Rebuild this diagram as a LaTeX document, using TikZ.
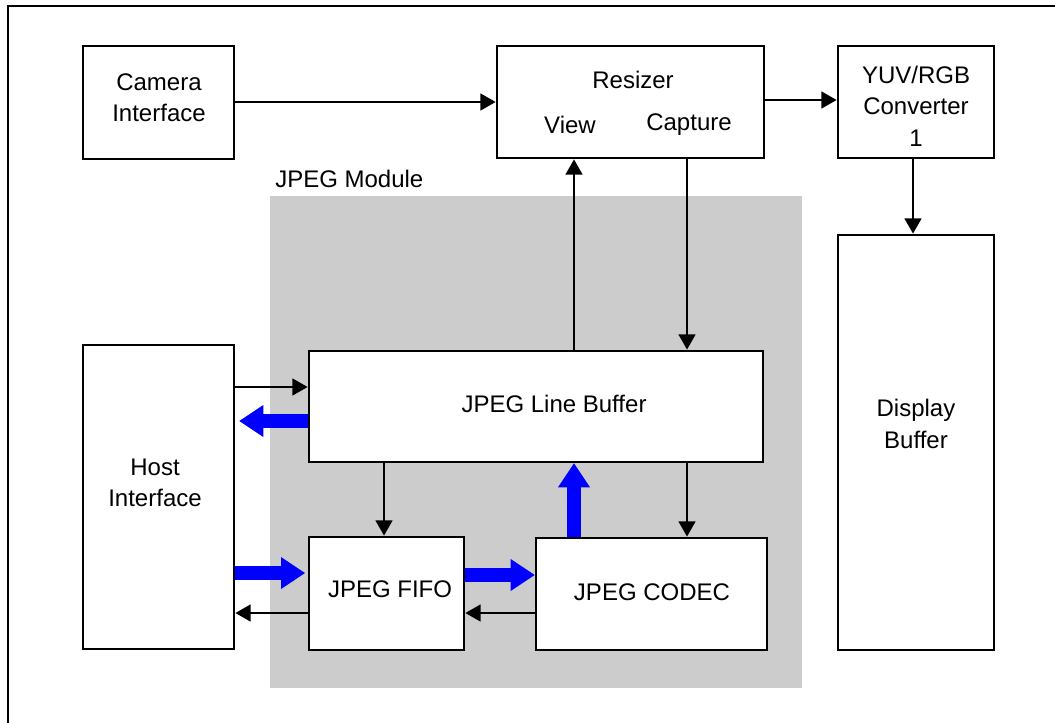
\documentclass[tikz,border=0pt]{standalone}
\usepackage{fontspec}
\setmainfont{Liberation Sans}
\usetikzlibrary{arrows.meta,fit}
\definecolor{modgray}{HTML}{CCCCCC}
\definecolor{arrblue}{HTML}{0000FF}
\begin{document}
\begin{tikzpicture}[x=0.75pt,y=-0.75pt,
  box/.style={draw, line width=2pt, fill=white, inner sep=0pt},
  lbl/.style={font=\fontsize{18}{23.5}\selectfont, align=center, inner sep=0pt},
  thinarrow/.style={line width=2pt, -{Triangle[length=11.5pt,width=12.5pt]}},
  fatarrow/.style={line width=10.5pt, arrblue, -{Triangle[length=18pt,width=24pt,line width=0pt]}}]
\useasboundingbox (0,0) rectangle (1055,723);
% module background
\node[fill=modgray, inner sep=0pt, fit={(270,196) (802,688)}] (module) {};
\node[lbl, anchor=west] (modT) at (275,179) {JPEG Module};
% frame
\draw[line width=2pt] (1058,6) -- (8,6) -- (8,726);
% boxes
\node[box, fit={(83,46) (234,159)}] (cam) {};
\node[box, fit={(497,46) (764,158)}] (res) {};
\node[box, fit={(838,46) (994,158)}] (yuv) {};
\node[box, fit={(838,235) (994,650)}] (disp) {};
\node[box, fit={(83,345) (234,649)}] (host) {};
\node[box, fit={(309,351) (763,462)}] (lb) {};
\node[box, fit={(309,537) (464,650)}] (fifo) {};
\node[box, fit={(536,538) (767,650)}] (codec) {};
% texts
\node[lbl] (camT) at (159,98) {Camera\\Interface};
\node[lbl] (resT) at (633,80) {Resizer};
\node[lbl] (viewT) at (570,125) {View};
\node[lbl] (capT) at (689,125) {Capture};
\node[lbl] (yuvT) at (916,106) {YUV/RGB\\Converter\\1};
\node[lbl] (dispT) at (916,424) {Display\\Buffer};
\node[lbl] (hostT) at (155,483) {Host\\Interface};
\node[lbl] (lbT) at (554,404) {JPEG Line Buffer};
\node[lbl] (fifoT) at (390,589) {JPEG FIFO};
\node[lbl] (codecT) at (652,592) {JPEG CODEC};
% thin arrows
\draw[thinarrow] (cam.east |- 0,102) -- (res.west |- 0,102);
\draw[thinarrow] (res.east |- 0,100) -- (yuv.west |- 0,100);
\draw[thinarrow] (yuv.south -| 913,0) -- (disp.north -| 913,0);
\draw[thinarrow] (lb.north -| 574,0) -- (res.south -| 574,0);
\draw[thinarrow] (res.south -| 687,0) -- (lb.north -| 687,0);
\draw[thinarrow] (host.east |- 0,387) -- (lb.west |- 0,387);
\draw[thinarrow] (lb.south -| 384,0) -- (fifo.north -| 384,0);
\draw[thinarrow] (lb.south -| 687,0) -- (codec.north -| 687,0);
\draw[thinarrow] (fifo.west |- 0,613) -- (host.east |- 0,613);
\draw[thinarrow] (codec.west |- 0,613) -- (fifo.east |- 0,613);
% thick blue arrows
\draw[fatarrow, shorten >=3pt] (lb.west |- 0,421) -- (host.east |- 0,421);
\draw[fatarrow, shorten >=2pt] (host.east |- 0,573) -- (fifo.west |- 0,573);
\draw[fatarrow] (fifo.east |- 0,575) -- (codec.west |- 0,575);
\draw[fatarrow] (codec.north -| 574,0) -- (lb.south -| 574,0);
\end{tikzpicture}
\end{document}
